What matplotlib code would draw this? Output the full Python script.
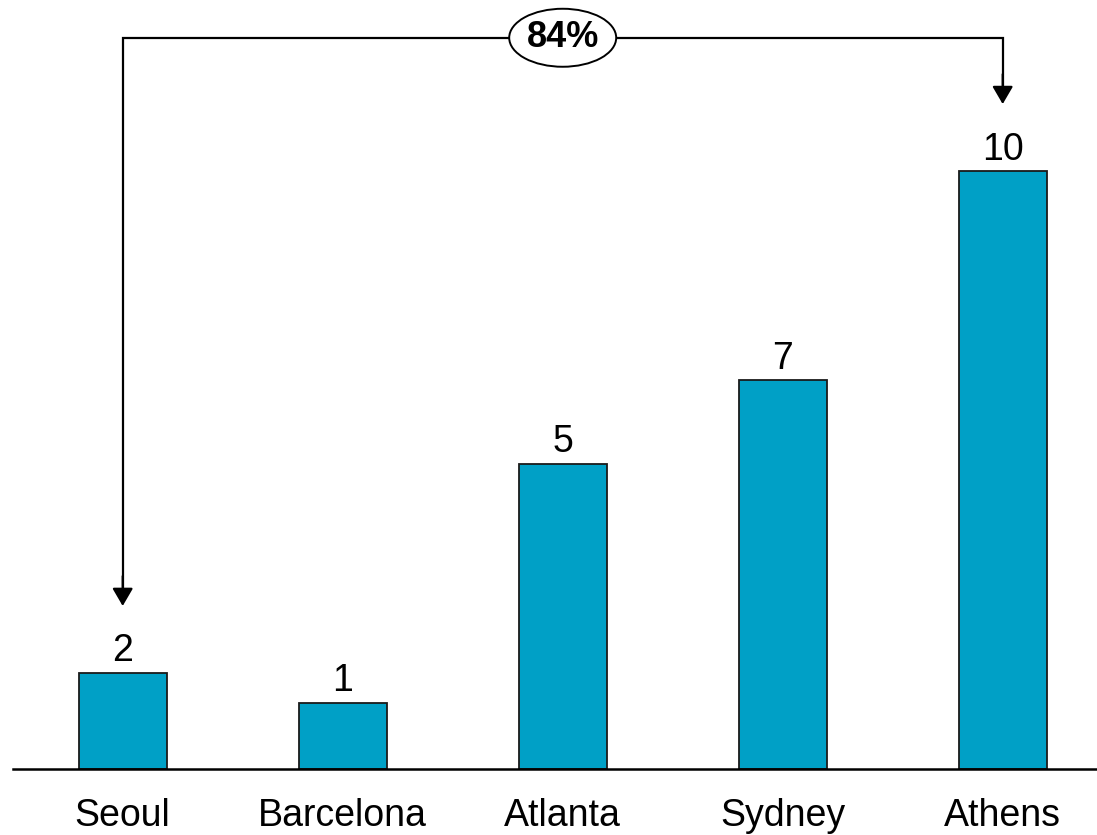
import math
import matplotlib
matplotlib.use("Agg")
import matplotlib.pyplot as plt
from matplotlib.patches import Ellipse

plt.rcParams["font.family"] = ["Liberation Sans", "DejaVu Sans"]

# Games and their values
cities = ["Seoul", "Barcelona", "Atlanta", "Sydney", "Athens"]
values = [1.6, 1.1, 5.1, 6.5, 10.0]

bar_color = "#00A0C6"
edge_color = "#1a1a1a"

W, H, DPI = 1097, 835, 100
fig = plt.figure(figsize=(W / DPI, H / DPI), dpi=DPI)

# axes placed so the bottom spine forms the baseline
left_px, bottom_px = 12.7, 66.5
ax = fig.add_axes([left_px / W, bottom_px / H, 1 - left_px / W, 1 - bottom_px / H])

x = list(range(len(cities)))
bars = ax.bar(x, values, width=0.4, color=bar_color, edgecolor=edge_color,
              linewidth=1.3, zorder=2)

labels = [str(int(math.floor(v + 0.5))) for v in values]
ax.bar_label(bars, labels=labels, padding=2.5, fontsize=27, color="black")

ax.set_xlim(-0.5, -0.5 + (W - left_px) / 220.0)
ax.set_ylim(0, (H - bottom_px) / 59.75)

ax.set_xticks(x)
ax.set_xticklabels(cities, fontsize=27)
ax.tick_params(axis="x", length=0, pad=21)
ax.set_yticks([])
for side in ("left", "right", "top"):
    ax.spines[side].set_visible(False)
ax.spines["bottom"].set_linewidth(1.8)
ax.spines["bottom"].set_color("black")

# bracket from first to last bar with change label
first, last = 0, len(values) - 1
y_top = 12.23
gap = 1.12
change = (values[last] - values[first]) / values[last]

ax.plot([x[first], x[first], x[last], x[last]],
        [values[first] + gap + 0.3, y_top, y_top, values[last] + gap + 0.3],
        color="black", lw=1.6, solid_joinstyle="miter", solid_capstyle="butt",
        zorder=3, clip_on=False)
for i in (first, last):
    ax.annotate("", xy=(x[i], values[i] + gap), xytext=(x[i], values[i] + gap + 0.5),
                arrowprops=dict(arrowstyle="-|>,head_length=0.6,head_width=0.35",
                                mutation_scale=18, lw=1.6, color="black",
                                shrinkA=0, shrinkB=0), zorder=3)

mid = (x[first] + x[last]) / 2
ax.add_patch(Ellipse((mid, y_top), width=107 / 220.0, height=58 / 59.75,
                     facecolor="white", edgecolor="black", lw=1.4, zorder=4,
                     clip_on=False))
ax.text(mid, y_top, f"{change:.0%}", ha="center", va="center", fontsize=26,
        fontweight="bold", zorder=5)

fig.savefig("out.png", dpi=DPI)
